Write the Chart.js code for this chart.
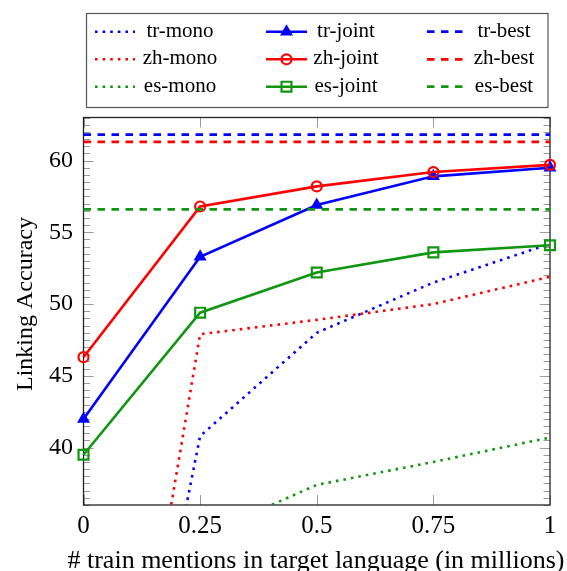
<!DOCTYPE html>
<html>
<head>
<meta charset="utf-8">
<script src="https://cdn.jsdelivr.net/npm/chart.js@4"></script>
<style>
  html, body { margin: 0; padding: 0; background: #fff; }
</style>
</head>
<body>
<canvas id="chart" width="567" height="571"></canvas>
<script>
const X_VALUES = [0, 0.25, 0.5, 0.75, 1];
const X_TICKS = [0, 0.25, 0.5, 0.75, 1];
const Y_TICKS = [40, 45, 50, 55, 60];

// monolingual models (values at 0 are far below the visible range)
const trMono = [0, 40.8, 48.0, 51.5, 54.2];
const zhMono = [0, 47.9, 48.9, 50.0, 51.9];
const esMono = [0, 33.8, 37.4, 39.0, 40.7];

// joint models
const trJoint = [42.0, 53.3, 56.9, 58.9, 59.5];
const zhJoint = [46.3, 56.8, 58.2, 59.2, 59.7];
const esJoint = [39.5, 49.4, 52.2, 53.6, 54.1];

// best single numbers, drawn as flat lines
const trBest = 61.8;
const zhBest = 61.3;
const esBest = 56.6;

const BLUE = '#0000ff';
const RED = '#ff0000';
const GREEN = 'rgb(16,150,16)';
const SERIF = '"Liberation Serif", "Times New Roman", serif';

const toPoints = values => values.map((v, i) => ({ x: X_VALUES[i], y: v }));

function monoSet(label, color, values) {
  return {
    label, data: toPoints(values), borderColor: color, borderWidth: 2.6,
    borderDash: [2.6, 5], pointRadius: 0, clip: 0
  };
}

function jointSet(label, color, values, style, radius, fill) {
  return {
    label, data: toPoints(values), borderColor: color, borderWidth: 2.6,
    pointStyle: style, pointRadius: radius, pointBorderColor: color,
    pointBackgroundColor: fill, pointBorderWidth: style === 'triangle' ? 1.5 : 2.2,
    clip: false
  };
}

function bestSet(label, color, value) {
  return {
    label, data: [{ x: 0, y: value }, { x: 1, y: value }], borderColor: color,
    borderWidth: 2.8, borderDash: [7.5, 6.5], pointRadius: 0, clip: false
  };
}

// same order as the legend grid: row = language, column = model type
const datasets = [
  monoSet('tr-mono', BLUE, trMono),
  jointSet('tr-joint', BLUE, trJoint, 'triangle', 6, BLUE),
  bestSet('tr-best', BLUE, trBest),
  monoSet('zh-mono', RED, zhMono),
  jointSet('zh-joint', RED, zhJoint, 'circle', 5, 'rgba(0,0,0,0)'),
  bestSet('zh-best', RED, zhBest),
  monoSet('es-mono', GREEN, esMono),
  jointSet('es-joint', GREEN, esJoint, 'rect', 7, 'rgba(0,0,0,0)'),
  bestSet('es-best', GREEN, esBest)
];
// later plots sit on top
datasets.forEach((ds, i) => { ds.order = datasets.length - i; });

const decorations = {
  id: 'decorations',
  beforeDatasetsDraw(chart) {
    const { ctx, chartArea: a, scales: { x, y } } = chart;
    ctx.save();
    ctx.strokeStyle = '#9a9a9a';
    ctx.lineWidth = 1;
    ctx.beginPath();
    for (let v = 36; v <= 63; v += 0.5) {
      const py = Math.round(y.getPixelForValue(v)) + 0.5;
      const len = v % 5 === 0 ? 10 : 6.5;
      ctx.moveTo(a.left, py); ctx.lineTo(a.left + len, py);
      ctx.moveTo(a.right, py); ctx.lineTo(a.right - len, py);
    }
    X_TICKS.forEach(v => {
      const px = Math.round(x.getPixelForValue(v)) + 0.5;
      ctx.moveTo(px, a.bottom); ctx.lineTo(px, a.bottom - 10);
      ctx.moveTo(px, a.top); ctx.lineTo(px, a.top + 10);
    });
    ctx.stroke();
    ctx.strokeStyle = '#222';
    ctx.lineWidth = 1.3;
    ctx.strokeRect(a.left, a.top, a.right - a.left, a.bottom - a.top);
    ctx.restore();
  },
  afterDraw(chart) {
    const ctx = chart.ctx;
    ctx.save();

    // legend box
    ctx.strokeStyle = '#555';
    ctx.lineWidth = 1.2;
    ctx.strokeRect(86.5, 13.5, 461.5, 94);

    const lineX = [[95, 135], [266, 307], [427, 463]];
    const textX = [180, 346, 504];
    const lineY = [31.7, 59.3, 86.7];
    const baseY = [36.7, 64.3, 91.5];
    chart.data.datasets.forEach((ds, i) => {
      const row = Math.floor(i / 3), col = i % 3;
      const [x0, x1] = lineX[col];
      ctx.strokeStyle = ds.borderColor;
      ctx.lineWidth = ds.borderWidth;
      ctx.setLineDash(ds.borderDash || []);
      ctx.beginPath();
      ctx.moveTo(x0, lineY[row]);
      ctx.lineTo(x1, lineY[row]);
      ctx.stroke();
      ctx.setLineDash([]);
      if (ds.pointRadius) {
        ctx.fillStyle = ds.pointBackgroundColor;
        ctx.strokeStyle = ds.pointBorderColor;
        ctx.lineWidth = ds.pointBorderWidth;
        Chart.helpers.drawPoint(ctx, {
          pointStyle: ds.pointStyle, radius: ds.pointRadius, rotation: 0,
          borderWidth: ds.pointBorderWidth
        }, (x0 + x1) / 2, lineY[row]);
      }
      ctx.fillStyle = '#000';
      ctx.font = '21px ' + SERIF;
      ctx.textAlign = 'center';
      ctx.textBaseline = 'alphabetic';
      ctx.fillText(ds.label, textX[col], baseY[row]);
    });

    // axis titles
    ctx.fillStyle = '#000';
    ctx.font = '26px ' + SERIF;
    ctx.textAlign = 'center';
    ctx.textBaseline = 'alphabetic';
    ctx.fillText('# train mentions in target language (in millions)', 316, 568);

    ctx.font = '24px ' + SERIF;
    ctx.translate(31.5, 304);
    ctx.rotate(-Math.PI / 2);
    ctx.fillText('Linking Accuracy', 0, 0);
    ctx.restore();
  }
};

new Chart(document.getElementById('chart'), {
  type: 'line',
  data: { datasets },
  plugins: [decorations],
  options: {
    responsive: false,
    animation: false,
    events: [],
    layout: { padding: { top: 117.5, right: 17, left: 0, bottom: 0 } },
    plugins: { legend: { display: false }, tooltip: { enabled: false } },
    elements: { line: { tension: 0, borderCapStyle: 'butt' } },
    scales: {
      x: {
        type: 'linear', min: 0, max: 1,
        grid: { display: false }, border: { display: false },
        afterBuildTicks: s => { s.ticks = X_TICKS.map(v => ({ value: v })); },
        afterFit: s => { s.height = 66; },
        ticks: {
          padding: -2, color: '#000', maxRotation: 0, autoSkip: false,
          font: { family: SERIF, size: 25 },
          callback: v => String(v)
        }
      },
      y: {
        type: 'linear', min: 36, max: 63,
        grid: { display: false }, border: { display: false },
        afterBuildTicks: s => { s.ticks = Y_TICKS.map(v => ({ value: v })); },
        afterFit: s => { s.width = 83.5; },
        ticks: {
          padding: 2.5, color: '#000', autoSkip: false,
          font: { family: SERIF, size: 24 },
          callback: v => String(v)
        }
      }
    }
  }
});
</script>
</body>
</html>
